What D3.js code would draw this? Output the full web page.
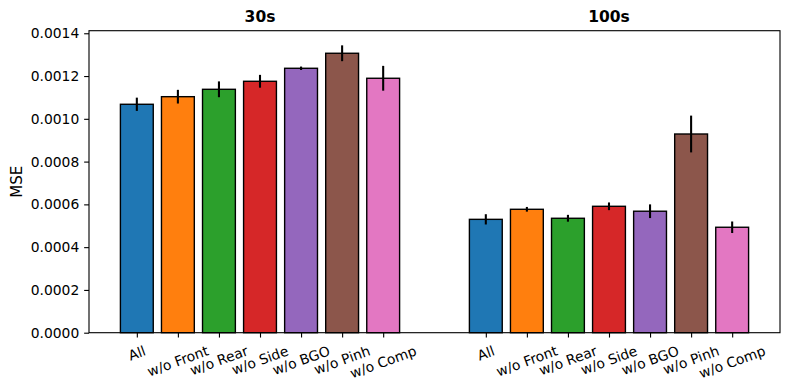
<!DOCTYPE html>
<html><head><meta charset="utf-8">
<script src="https://cdn.jsdelivr.net/npm/d3@7"></script>
<style>body{margin:0;background:#fff}svg{display:block}text{font-family:"DejaVu Sans",sans-serif}</style>
</head><body><svg id="c" width="790" height="389"></svg>
<script>
const groups = ["30s", "100s"];
const labels = ["All","w/o Front","w/o Rear","w/o Side","w/o BGO","w/o Pinh","w/o Comp"];
const mse30 = [0.001068, 0.0011035, 0.001138, 0.0011755, 0.0012363, 0.0013065, 0.0011896];
const err30 = [0.000031, 0.000032, 0.000037, 0.000030, 0.000008, 0.000037, 0.000058];
const mse100 = [0.000530, 0.000577, 0.000535, 0.000591, 0.000568, 0.000929, 0.000493];
const err100 = [0.000024, 0.000011, 0.000016, 0.000018, 0.000032, 0.000086, 0.000027];
const yTicks = [0, 0.0002, 0.0004, 0.0006, 0.0008, 0.0010, 0.0012, 0.0014];
const colors = ["#1f77b4","#ff7f0e","#2ca02c","#d62728","#9467bd","#8c564b","#e377c2"];
const groupOffset = [0, 8.5];
const seriesVals = [mse30, mse100], seriesErr = [err30, err100];

const svg = d3.select("#c");
const L = 89, R = 780, T = 30.7, B = 332.7;
const fs = 13.89;
const x = d3.scaleLinear().domain([-1.165, 15.665]).range([L, R]);
const y = d3.scaleLinear().domain([0, 0.001412]).range([B, T]);
const bw = 0.8;

const data = [];
groups.forEach((g, gi) => labels.forEach((lab, i) => data.push({
  pos: groupOffset[gi] + i, v: seriesVals[gi][i], e: seriesErr[gi][i], c: colors[i], lab
})));

// bars
svg.append("g").selectAll("rect").data(data).join("rect")
  .attr("x", d => x(d.pos - bw/2)).attr("width", d => x(d.pos + bw/2) - x(d.pos - bw/2))
  .attr("y", d => y(d.v)).attr("height", d => y(0) - y(d.v))
  .attr("fill", d => d.c).attr("stroke", "#000").attr("stroke-width", 1.39);
// error bars
svg.append("g").selectAll("line").data(data).join("line")
  .attr("x1", d => x(d.pos)).attr("x2", d => x(d.pos))
  .attr("y1", d => y(d.v - d.e)).attr("y2", d => y(d.v + d.e))
  .attr("stroke", "#000").attr("stroke-width", 2.08);

// y axis
const ya = svg.append("g").attr("transform", `translate(${L},0)`)
  .call(d3.axisLeft(y).tickValues(yTicks).tickFormat(d => d.toFixed(4)).tickSize(4.86).tickPadding(4.86));
ya.select(".domain").remove();
ya.selectAll("line").attr("stroke", "#000").attr("stroke-width", 1.11);
ya.selectAll("text").attr("font-size", fs).attr("fill", "#000").attr("font-family", "DejaVu Sans");

// x axis
const xa = svg.append("g").attr("transform", `translate(0,${B})`)
  .call(d3.axisBottom(x).tickValues(data.map(d => d.pos)).tickFormat("").tickSize(4.86));
xa.select(".domain").remove();
xa.selectAll("line").attr("stroke", "#000").attr("stroke-width", 1.11);

// rotated tick labels (ha=center, va=top after rotation)
const ang = 20 * Math.PI / 180, th = fs * 1.17;
const topY = B + 4.86 + 4.86;
data.forEach(d => {
  const t = svg.append("text").text(d.lab).attr("font-size", fs).attr("fill", "#000")
    .attr("text-anchor", "middle").attr("dominant-baseline", "central");
  const w = t.node().getComputedTextLength();
  const hb = w * Math.sin(ang) + th * Math.cos(ang);
  const cx = x(d.pos), cy = topY + hb / 2;
  t.attr("transform", `translate(${cx},${cy}) rotate(-20)`);
});

// spines
svg.append("rect").attr("x", L).attr("y", T).attr("width", R - L).attr("height", B - T)
  .attr("fill", "none").attr("stroke", "#000").attr("stroke-width", 1.11);

// titles
groups.forEach((g, gi) => {
  svg.append("text").text(g).attr("x", x(groupOffset[gi] + 3)).attr("y", T - 8.3)
    .attr("text-anchor", "middle").attr("font-size", 15.5).attr("font-weight", "bold").attr("fill", "#000");
});

// y label
svg.append("text").text("MSE").attr("transform", `translate(22,${(T + B) / 2}) rotate(-90)`)
  .attr("text-anchor", "middle").attr("font-size", 15).attr("fill", "#000");
</script></body></html>
